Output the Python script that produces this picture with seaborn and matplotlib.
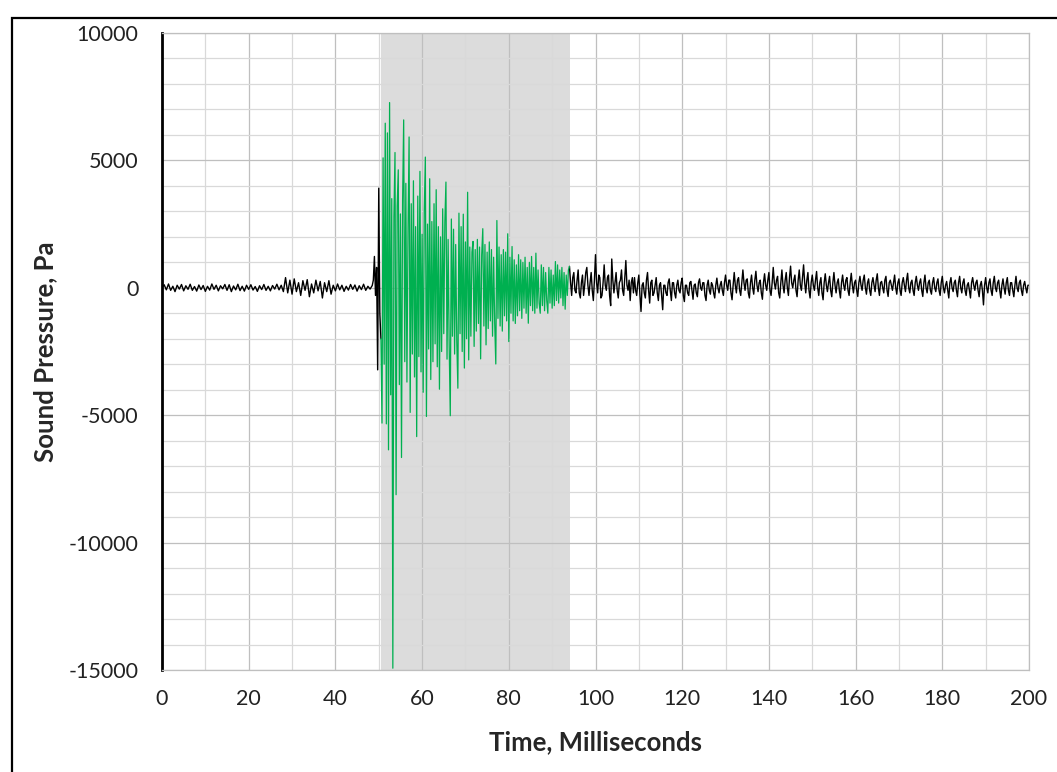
import numpy as np
import matplotlib
matplotlib.use("Agg")
import matplotlib.pyplot as plt
from matplotlib.ticker import MultipleLocator
from matplotlib.patches import Rectangle
import seaborn as sns

# pressure trace (Pa) in pieces
pre_start, pre_step = 0.0, 0.5
pre_vals = [
  0, 120, -80, 150, -100, 60, -150, 100, -50, 130,
  -120, 80, -60, 140, -100, 50, -130, 110, -70, 90,
  -140, 60, -90, 150, -60, 100, -120, 80, -40, 130,
  -100, 120, -150, 70, -80, 140, -110, 60, -130, 100,
  -60, 120, -90, 50, -140, 80, -70, 130, -100, 60,
  -120, 90, -50, 140, -80, 100, -150, 400, -200, 300,
  -250, 350, -150, 200, -300, 280, -100, 320, -350, 150,
  -200, 300, -120, 250, -400, 200, -150, 280, -250, 100,
  -120, 150, -80, 100, -140, 60, -90, 130, -60, 110,
  -130, 80, -70, 140, -100, 60, -50, 90,
]
onset_start, onset_step = 48.75, 0.25
onset_vals = [300, 1230, -300, 800, -3220, 3910, -1000, -2000]

burst_start, burst_step = 50.5, 0.25
burst_vals = [
  -2000, -5310,
  5100, -3000, 6460, -5340,
  6080, -6360, 7270, -4200,
  3500, -14930, 2800, 5310,
  -8120, 3200, 4630, -3800,
  2900, -6660, 3400, 6590,
  -2900, 4100, -3700, 2200,
  5920, -4890, 3300, -2600,
  4200, -3500, 2400, -5840,
  3600, -2700, 4570, -3300,
  2100, -4100, 3000, 5130,
  -5050, 2500, -2400, 4280,
  -3600, 2600, -2900, 3300,
  -2200, 3850, -3100, 2400,
  -3980, 2000, -2500, 3100,
  -1800, 2600, 4150, -2800,
  1900, -2300, -5020, 2700,
  -1900, 2300, -2600, 1700,
  -2100, -3940, 2930, -1800,
  2400, -2500, 2890, -3150,
  1800, -2000, 3750, -2830,
  1600, -1900, 1400, 1820,
  -2300, 1500, -1700, 1900,
  -1400, 1600, -2790, 1300,
  2320, -1500, 1700, -2240,
  1400, -1600, 1800, -1300,
  1500, -1900, 1200, -1400,
  -2990, 2640, -1200, 1600,
  -1500, 1300, -1700, 1500,
  -1100, 1400, -1300, 2120,
  -2110, 1200, -1000, 1620,
  -1300, 1100, -1400, 900,
  -1100, 1300, -900, 1100,
  -1200, 1000, -800, 1200,
  -1000, 800, -1390, 1000,
  -700, 1230, -900, 800,
  -1000, 1360, -800, 700,
  -600, -1000, 900, -700,
  800, -900, 600, -500,
  -1000, 800, -600, 700,
  -800, 500, -700, 1030,
  -500, 900, -600, 700,
  -400, 800, -700, 600,
  -840, 500, -300, 700,
  840,
]

tail_start, tail_step = 94.0, 0.25
tail_vals = [
  840, 200, -300, 400, 600, -100, -200, 300, 700, -200, -400, 200, 500, -300, 100, 600, 800, 100, -300, 200,
  600, -100, -500, 300, 1300, 200, -200, 500, 400, -400, -300, 200, 900, 100, -100, 400, 500, -300, -700, 1130,
  300, -200, 200, 600, -100, -400, 200, 300, 700, -100, -300, 400, 1070, 100, -100, 300, -500, 200, 400, -200,
  400, -100, -300, 200, 500, -300, -930, 100, 200, -200, -400, 300, 600, -100, -600, 200, 300, -300, -200, 100,
  400, -200, -500, 100, 200, -300, -860, 100, 100, -200, -300, 200, 350, -100, -500, 200, 200, -200, -400, 100,
  300, -100, -200, 200, 380, -300, -540, 100, 100, -200, -300, 200, 250, -100, -450, 100, 150, -200, -350, 200,
  350, 0, -100, 200, 200, -300, -500, 100, 300, -100, -250, 200, 100, -200, -400, 100, 380, 0, -200, 100,
  250, -100, -300, 200, 500, 100, -100, 300, 300, -200, -470, 100, 600, 100, -200, 300, 400, -100, -300, 200,
  700, 200, -100, 300, 350, -200, -400, 200, 500, 0, -250, 300, 650, 100, -150, 200, 300, -200, -450, 200,
  550, 100, -100, 300, 600, -100, -300, 200, 800, 200, -50, 300, 450, -200, -400, 200, 700, 100, -200, 300,
  600, 0, -300, 400, 850, 200, 0, 300, 500, -100, -350, 300, 700, 100, -100, 400, 900, 200, -200, 300,
  600, -100, -400, 200, 500, 100, -100, 300, 640, 0, -300, 200, 400, -200, -470, 200, 550, 100, -150, 200,
  450, -100, -350, 200, 600, 100, -200, 200, 350, -100, -400, 200, 500, 100, -100, 300, 400, -100, -300, 200,
  570, 100, -200, 200, 300, -100, -340, 200, 450, 100, -100, 300, 500, 0, -250, 200, 350, -100, -300, 200,
  400, 100, -150, 300, 550, 0, -300, 200, 250, 0, -200, 300, 450, -100, -340, 200, 300, 100, -100, 200,
  500, 0, -250, 200, 350, -100, -300, 200, 400, 100, -150, 300, 570, 0, -200, 200, 300, -100, -300, 200,
  450, 100, -100, 200, 350, -100, -340, 200, 500, 0, -200, 200, 300, -100, -250, 200, 400, 0, -150, 200,
  350, -100, -300, 200, 450, 0, -200, 100, 250, -100, -400, 200, 400, 0, -150, 200, 300, -100, -350, 200,
  450, 0, -200, 200, 350, -100, -300, 100, 200, -100, -400, 200, 400, 100, -100, 200, 300, -100, -350, 100,
  250, -100, -670, 100, 400, 0, -200, 200, 350, -100, -300, 200, 450, 0, -150, 200, 300, -100, -400, 100,
  350, 0, -250, 200, 400, -100, -300, 200, 200, -100, -350, 100, 450, 0, -150, 200, 300, -100, -300, 100,
  250, 0, -200, 100, 100,
]

window = (50.5, 94.1)  # shaded analysis window, ms
x_ticks = list(range(0, 201, 20))
y_ticks = [-15000, -10000, -5000, 0, 5000, 10000]

green = "#00b050"
grid_major = "#bfbfbf"
grid_minor = "#d9d9d9"


def times(start, step, vals):
  return start + step * np.arange(len(vals))


sns.set_style("white")
plt.rcParams["font.family"] = ["Lato", "DejaVu Sans"]
plt.rcParams["axes.unicode_minus"] = False

fig = plt.figure(figsize=(10.57, 7.72), dpi=100)
ax = fig.add_axes([162 / 1057, 1 - 670 / 772, 867 / 1057, 637 / 772])

ax.axvspan(*window, color="#dcdcdc", lw=0, zorder=0.1)

black_t = np.concatenate([times(pre_start, pre_step, pre_vals), times(onset_start, onset_step, onset_vals)])
black_v = np.array(pre_vals + onset_vals, dtype=float)
sns.lineplot(x=black_t, y=black_v, ax=ax, color="black", linewidth=1.0, estimator=None, sort=False)
sns.lineplot(x=times(tail_start, tail_step, tail_vals), y=tail_vals, ax=ax, color="black",
             linewidth=1.0, estimator=None, sort=False)
sns.lineplot(x=times(burst_start, burst_step, burst_vals), y=burst_vals, ax=ax, color=green,
             linewidth=0.9, estimator=None, sort=False)

ax.set_xlim(0, 200)
ax.set_ylim(-15000, 10000)
ax.set_xticks(x_ticks)
ax.set_yticks(y_ticks)
ax.xaxis.set_minor_locator(MultipleLocator(10))
ax.yaxis.set_minor_locator(MultipleLocator(1000))
ax.set_axisbelow(True)
ax.grid(which="minor", color=grid_minor, linewidth=0.9)
ax.grid(which="major", color=grid_major, linewidth=0.9)
ax.tick_params(which="both", length=0, labelsize=15.5, colors="#222222")
ax.tick_params(axis="y", pad=17)
ax.tick_params(axis="x", pad=14)

for side in ["top", "right", "bottom"]:
  ax.spines[side].set_color(grid_major)
  ax.spines[side].set_linewidth(0.9)
ax.spines["left"].set_color("black")
ax.spines["left"].set_linewidth(2)

ax.set_xlabel("Time, Milliseconds", fontsize=18.5, fontweight="bold", va="center")
ax.xaxis.set_label_coords(0.5, -0.113)
ax.set_ylabel("Sound Pressure, Pa", fontsize=18.5, fontweight="bold", va="center")
ax.yaxis.set_label_coords(-0.135, 0.5)

# outer chart border
fig.add_artist(Rectangle((12 / 1057, -0.05), 1.2, 1 - 18 / 772 + 0.05, transform=fig.transFigure,
                         fill=False, edgecolor="black", linewidth=1.6))

fig.savefig("out.png", dpi=100)
